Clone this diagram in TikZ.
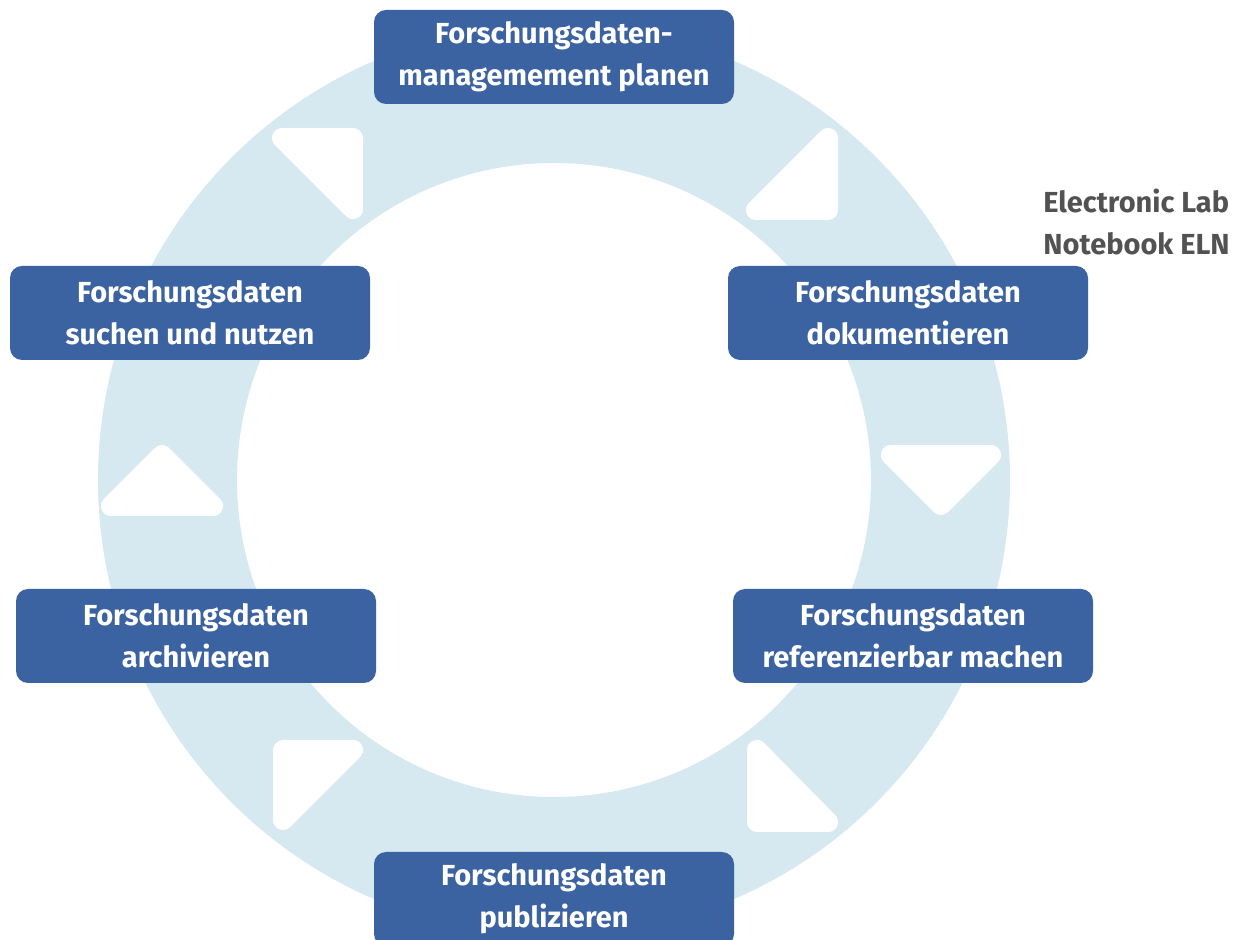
\documentclass[tikz,border=0pt]{standalone}
\usepackage{fontspec}
\setmainfont{Fira Sans}
\definecolor{ringblue}{RGB}{214,232,240}
\definecolor{phaseblue}{RGB}{59,98,161}
\definecolor{elngray}{RGB}{82,82,82}
\begin{document}
\begin{tikzpicture}[x=0.5pt,y=-0.5pt,
    phase/.style={fill=phaseblue, rounded corners=6pt, minimum width=180pt,
      minimum height=47pt, inner sep=0pt, text=white, align=center,
      font=\fontsize{14.5}{21}\selectfont\bfseries},
    tip/.style={fill=white, draw=white, line width=10pt, line join=round}]
    \useasboundingbox (0,0) rectangle (1238,940);
    % ring
    \fill[ringblue, even odd rule] (554,480) circle[radius=456] (554,480) circle[radius=317];
    % arrow tips, clockwise
    \filldraw[tip] (353,138) -- (282,138) -- (353,209) -- cycle;
    \filldraw[tip] (828,210) -- (828,138) -- (756,210) -- cycle;
    \filldraw[tip] (941,505) -- (891,455) -- (991,455) -- cycle;
    \filldraw[tip] (757,822) -- (757,750) -- (828,822) -- cycle;
    \filldraw[tip] (283,750) -- (353,750) -- (283,820) -- cycle;
    \filldraw[tip] (162,455) -- (111,506) -- (213,506) -- cycle;
    % phases
    \node[phase] (plan) at (554,57) {Forschungsdaten-\\managemement planen};
    \node[phase] (document) at (908,313) {Forschungsdaten\\dokumentieren};
    \node[phase] (reference) at (913,636) {Forschungsdaten\\referenzierbar machen};
    \node[phase] (publish) at (554,899) {Forschungsdaten\\publizieren};
    \node[phase] (archive) at (196,636) {Forschungsdaten\\archivieren};
    \node[phase] (search) at (190,313) {Forschungsdaten\\suchen und nutzen};
    \node[anchor=west, inner sep=0pt, align=left, text=elngray,
      font=\fontsize{14.5}{21}\selectfont\bfseries] (eln) at (1043,222) {Electronic Lab\\Notebook ELN};
\end{tikzpicture}
\end{document}
